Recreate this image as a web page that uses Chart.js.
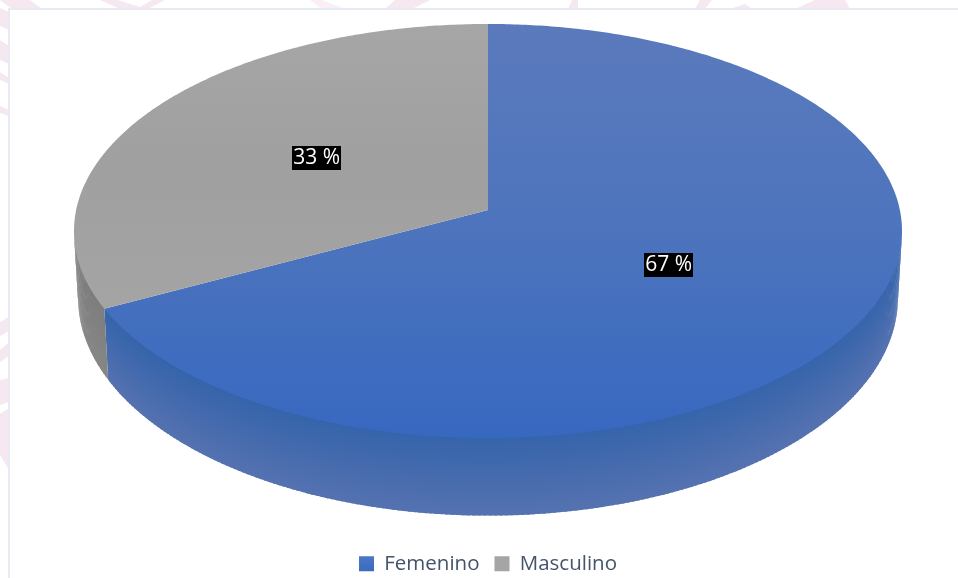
<!DOCTYPE html>
<html><head><meta charset="utf-8">
<style>
html,body{margin:0;padding:0;width:958px;height:578px;overflow:hidden;background:#fff}
#wm{position:absolute;left:0;top:0}
#frame{position:absolute;left:8px;top:8px;width:960px;height:580px;background:#fff;border:2px solid #e8ecf2;box-sizing:border-box}
#box{position:absolute;left:0;top:0;width:958px;height:578px}
</style></head><body>
<svg id="wm" width="958" height="578"><g fill="#f6e8f0">
<polygon points="0,8 9,12 9,30 0,26"/><polygon points="0,40 9,46 9,64 0,60"/><polygon points="0,72 9,78 9,84 0,80"/><polygon points="0,106 9,110 9,116 0,113"/>
<polygon points="0,322 9,317 9,331 0,336"/><polygon points="0,350 9,342 9,356 0,362"/><polygon points="0,380 9,378 9,402 0,405"/><polygon points="0,414 9,408 9,470 0,455"/>
<polygon points="0,0 30,0 42,9 12,9"/><polygon points="100,0 118,0 140,7 152,0 165,0 148,9 120,9"/><polygon points="310,0 322,0 345,9 322,9" opacity=".7"/><polygon points="395,0 430,0 412,9 385,9"/>
<polygon points="568,9 572,0 578,0 578,9"/><polygon points="695,9 700,0 712,0 705,9"/><polygon points="730,9 745,4 752,9"/><polygon points="795,9 815,0 845,0 850,9"/>
</g></svg>
<div id="frame"></div>
<div id="box"><canvas id="c" width="958" height="578"></canvas></div>
<script src="https://cdn.jsdelivr.net/npm/chart.js@4"></script>
<script>
const categories = ['Femenino', 'Masculino'];
const shares = [67.4, 32.6];
const labelSuffix = ' %';

const canvas = document.getElementById('c');
const ctx0 = canvas.getContext('2d');
function vGrad(y0, y1, stops){
  const g = ctx0.createLinearGradient(0, y0, 0, y1);
  stops.forEach((c,i)=>g.addColorStop(i/(stops.length-1), c));
  return g;
}
const topFill = [vGrad(24,438,['#5b7abc','#4d74bd','#3768c0']), vGrad(24,310,['#a6a6a6','#a0a0a0','#a4a4a4'])];
const legendFill = [vGrad(556,572,['#4d77c4','#3a69c0']), '#a5a5a5'];
const wallStops = [['#3664ab','#5572b0'], ['#7d7d7d','#878787']];

const K = 0.1014, Y0 = 210, SY = 204.9, LOW_X = 0.99, LOW_CY = 298, LOW_RY = 217.6, TOP_CY = 231, TOP_RY = 207;
function project(cx, Rx, a, r){
  const u = r*Math.cos(a), v = r*Math.sin(a), w = 1 - K*v;
  return [cx + Rx*u/w, Y0 + SY*v/w];
}
function lower(cx, p){
  return [cx + (p[0]-cx)*LOW_X, LOW_CY + (p[1]-TOP_CY)*LOW_RY/TOP_RY];
}
const pie3d = {
  id: 'pie3d',
  beforeDatasetsDraw(chart){
    const ctx = chart.ctx, meta = chart.getDatasetMeta(0);
    const cx = meta.data[0].x;
    const Rx = 414*Math.sqrt(1-K*K);
    const aL = Math.asin(K), aR = Math.PI - Math.asin(K);
    ctx.save();
    meta.data.forEach((arc,i)=>{
      const s = Math.max(arc.startAngle, aL), e = Math.min(arc.endAngle, aR);
      if (e <= s) return;
      const n = Math.ceil((e-s)/0.012);
      for (let j=0;j<n;j++){
        const a0 = s+(e-s)*j/n, a1 = s+(e-s)*Math.min(n,j+1.6)/n;
        const p0 = project(cx,Rx,a0,1), p1 = project(cx,Rx,a1,1);
        const q0 = lower(cx,p0), q1 = lower(cx,p1);
        const g = ctx.createLinearGradient(0,p0[1],0,q0[1]);
        g.addColorStop(0,wallStops[i][0]); g.addColorStop(1,wallStops[i][1]);
        ctx.fillStyle = g;
        ctx.beginPath();
        ctx.moveTo(p0[0],p0[1]-1); ctx.lineTo(p1[0],p1[1]-1); ctx.lineTo(q1[0],q1[1]); ctx.lineTo(q0[0],q0[1]);
        ctx.closePath(); ctx.fill();
      }
    });
    meta.data.forEach((arc,i)=>{
      const s = arc.startAngle, e = arc.endAngle, n = Math.ceil((e-s)/0.01);
      ctx.beginPath();
      const c = project(cx,Rx,0,0);
      ctx.moveTo(c[0],c[1]);
      for (let j=0;j<=n;j++){ const p = project(cx,Rx,s+(e-s)*j/n,1); ctx.lineTo(p[0],p[1]); }
      ctx.closePath();
      ctx.fillStyle = topFill[i];
      ctx.fill();
    });
    ctx.restore();
    return false;
  },
  afterDraw(chart){
    const ctx = chart.ctx, meta = chart.getDatasetMeta(0);
    const cx = meta.data[0].x, Rx = 414*Math.sqrt(1-K*K);
    ctx.save();
    ctx.font = '21px "Open Sans"';
    ctx.textAlign = 'center'; ctx.textBaseline = 'middle';
    meta.data.forEach((arc,i)=>{
      const p = project(cx,Rx,(arc.startAngle+arc.endAngle)/2,0.5);
      const t = Math.round(shares[i]) + labelSuffix;
      const bw = 49, bh = 24;
      ctx.fillStyle = '#000';
      ctx.fillRect(Math.round(p[0]-bw/2),Math.round(p[1]-bh/2),bw,bh);
      ctx.fillStyle = '#fff';
      ctx.fillText(t,p[0],p[1]);
    });
    ctx.restore();
  }
};
new Chart(canvas, {
  type: 'pie',
  data: { labels: categories, datasets: [{ data: shares, backgroundColor: legendFill, borderWidth: 0 }] },
  options: {
    responsive: false, animation: false,
    layout: { padding: { left: 74, right: 56, top: 24, bottom: -6 } },
    plugins: {
      tooltip: { enabled: false },
      legend: { position: 'bottom', labels: { boxWidth: 15, boxHeight: 15, padding: 15, color: '#44546a', font: { family: '"Open Sans"', size: 20.5 } } }
    }
  },
  plugins: [pie3d]
});
</script></body></html>
